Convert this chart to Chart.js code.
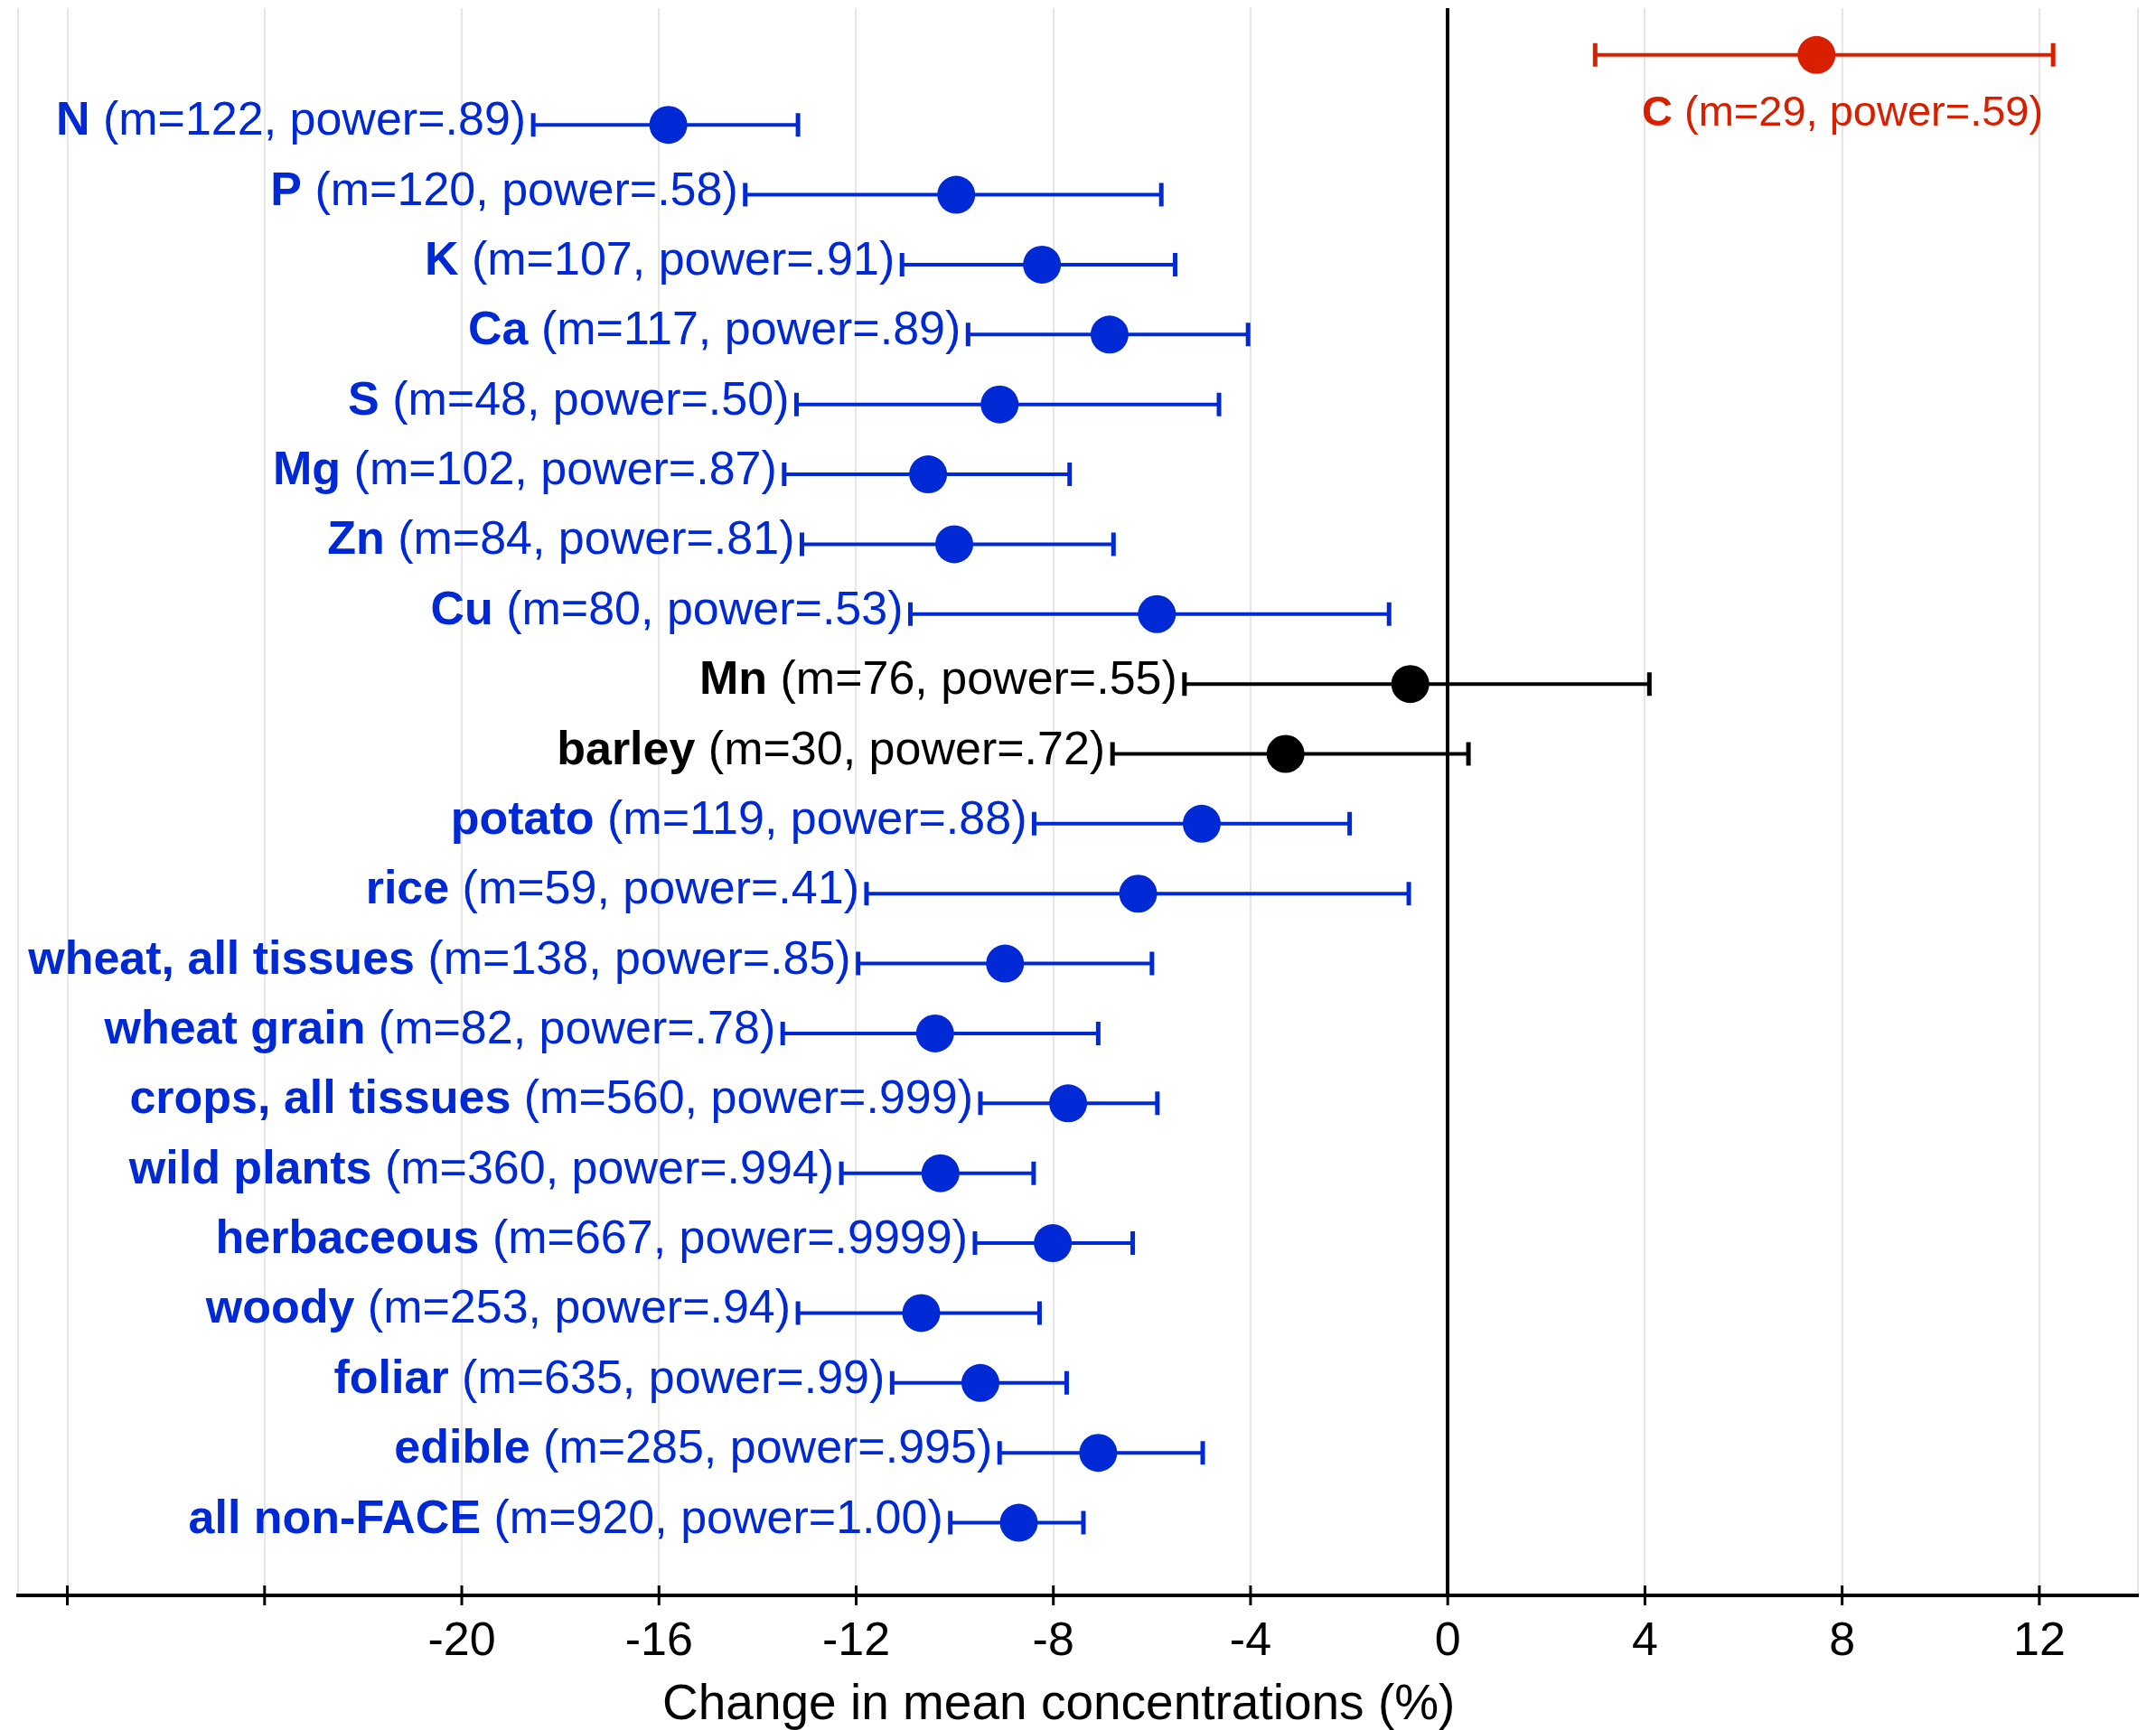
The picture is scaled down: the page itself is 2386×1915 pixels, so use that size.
<!DOCTYPE html>
<html>
<head>
<meta charset="utf-8">
<script src="https://cdn.jsdelivr.net/npm/chart.js@4/dist/chart.umd.min.js"></script>
<style>
  body { margin: 0; background: #fff; }
  #wrap { width: 2386px; height: 1915px; }
</style>
</head>
<body>
<div id="wrap"><canvas id="forest" width="2386" height="1915"></canvas></div>
<script>
// Rows from top to bottom
const names = ['C', 'N', 'P', 'K', 'Ca', 'S', 'Mg', 'Zn', 'Cu', 'Mn', 'barley', 'potato', 'rice',
    'wheat, all tissues', 'wheat grain', 'crops, all tissues', 'wild plants', 'herbaceous',
    'woody', 'foliar', 'edible', 'all non-FACE'];
const details = ['(m=29, power=.59)', '(m=122, power=.89)', '(m=120, power=.58)', '(m=107, power=.91)',
    '(m=117, power=.89)', '(m=48, power=.50)', '(m=102, power=.87)', '(m=84, power=.81)',
    '(m=80, power=.53)', '(m=76, power=.55)', '(m=30, power=.72)', '(m=119, power=.88)',
    '(m=59, power=.41)', '(m=138, power=.85)', '(m=82, power=.78)', '(m=560, power=.999)',
    '(m=360, power=.994)', '(m=667, power=.9999)', '(m=253, power=.94)', '(m=635, power=.99)',
    '(m=285, power=.995)', '(m=920, power=1.00)'];
const means = [7.48, -15.81, -9.97, -8.23, -6.86, -9.09, -10.54, -10.01, -5.9, -0.76, -3.29, -4.99,
    -6.28, -8.98, -10.4, -7.7, -10.29, -8.01, -10.68, -9.48, -7.09, -8.7];
const lower = [2.99, -18.55, -14.25, -11.07, -9.73, -13.21, -13.46, -13.1, -10.9, -5.34, -6.8, -8.39,
    -11.79, -11.96, -13.49, -9.48, -12.3, -9.59, -13.18, -11.27, -9.09, -10.09];
const upper = [12.28, -13.18, -5.81, -5.53, -4.05, -4.64, -7.67, -6.78, -1.19, 4.09, 0.42, -1.99,
    -0.79, -6.0, -7.09, -5.89, -8.4, -6.39, -8.28, -7.73, -4.97, -7.39];
// 'up' = significant increase, 'down' = significant decrease, 'ns' = not significant
const effect = ['up', 'down', 'down', 'down', 'down', 'down', 'down', 'down', 'down', 'ns', 'ns',
    'down', 'down', 'down', 'down', 'down', 'down', 'down', 'down', 'down', 'down', 'down'];

const tickValues = [-29, -28, -24, -20, -16, -12, -8, -4, 0, 4, 8, 12, 14];
const tickLabels = ['', '', '', '-20', '-16', '-12', '-8', '-4', '0', '4', '8', '12', ''];
const xTitle = 'Change in mean concentrations (%)';

const colors = { up: '#d82000', down: '#0029d6', ns: '#000000' };
const FONT = '"Liberation Sans", Arial, Helvetica, sans-serif';

const points = means.map((m, i) => ({ x: m, y: i }));

// error bars, tick marks, row labels and axis title
const forestPlugin = {
    id: 'forest',
    beforeDatasetsDraw(chart) {
        const { ctx } = chart;
        const xs = chart.scales.x, ys = chart.scales.y;
        ctx.save();
        names.forEach((name, i) => {
            const y = ys.getPixelForValue(i);
            const x1 = xs.getPixelForValue(lower[i]);
            const x2 = xs.getPixelForValue(upper[i]);
            ctx.strokeStyle = colors[effect[i]];
            ctx.lineWidth = 4;
            ctx.beginPath();
            ctx.moveTo(x1, y); ctx.lineTo(x2, y);
            ctx.stroke();
            ctx.lineWidth = 5;
            ctx.beginPath();
            ctx.moveTo(x1, y - 13); ctx.lineTo(x1, y + 13);
            ctx.moveTo(x2, y - 13); ctx.lineTo(x2, y + 13);
            ctx.stroke();

            // label
            const size = effect[i] === 'up' ? 47 : 52;
            ctx.fillStyle = colors[effect[i]];
            ctx.textBaseline = 'alphabetic';
            ctx.textAlign = 'left';
            ctx.font = 'bold ' + size + 'px ' + FONT;
            const wb = ctx.measureText(name + ' ').width;
            ctx.font = size + 'px ' + FONT;
            const wd = ctx.measureText(details[i]).width;
            let right, base;
            if (effect[i] === 'up') {
                right = x2 - 11;
                base = y + 78;
            } else {
                right = x1 - 8;
                base = y + 11;
            }
            const left = right - wb - wd;
            ctx.font = 'bold ' + size + 'px ' + FONT;
            ctx.fillText(name, left, base);
            ctx.font = size + 'px ' + FONT;
            ctx.fillText(details[i], left + wb, base);
        });

        // tick marks crossing the axis
        const yb = chart.chartArea.bottom;
        ctx.strokeStyle = '#000';
        ctx.lineWidth = 3;
        ctx.beginPath();
        tickValues.forEach((v, k) => {
            if (k === 0 || k === tickValues.length - 1) return;
            const x = xs.getPixelForValue(v);
            ctx.moveTo(x, yb - 11); ctx.lineTo(x, yb + 11);
        });
        ctx.stroke();

        // axis title, centred under the tick marks
        const xm = (xs.getPixelForValue(tickValues[1]) + xs.getPixelForValue(tickValues[tickValues.length - 2])) / 2;
        ctx.fillStyle = '#000';
        ctx.textAlign = 'center';
        ctx.textBaseline = 'alphabetic';
        ctx.font = '55px ' + FONT;
        ctx.fillText(xTitle, xm + 6, 1903);
        ctx.restore();
    }
};

new Chart(document.getElementById('forest'), {
    type: 'scatter',
    data: {
        datasets: [{
            data: points,
            pointRadius: 21,
            pointHoverRadius: 21,
            pointBorderWidth: 0,
            pointBackgroundColor: effect.map(e => colors[e]),
            pointBorderColor: effect.map(e => colors[e])
        }]
    },
    options: {
        responsive: false,
        animation: false,
        devicePixelRatio: 1,
        layout: { autoPadding: false, padding: { top: 9, left: 18, right: 15, bottom: 0 } },
        plugins: { legend: { display: false }, tooltip: { enabled: false } },
        scales: {
            x: {
                type: 'linear',
                min: -29,
                max: 14,
                afterBuildTicks: scale => { scale.ticks = tickValues.map(v => ({ value: v })); },
                afterFit: scale => { scale.height = 149; },
                grid: {
                    drawTicks: false,
                    color: c => c.tick && c.tick.value === 0 ? '#000' : '#e6e6e6',
                    lineWidth: c => c.tick && c.tick.value === 0 ? 4 : 2
                },
                border: { display: true, color: '#000', width: 4 },
                ticks: {
                    padding: 20,
                    color: '#000',
                    font: { family: FONT, size: 52 },
                    callback: (v, k) => tickLabels[k]
                }
            },
            y: {
                type: 'linear',
                reverse: true,
                min: -0.67,
                max: 22.04,
                display: false
            }
        }
    },
    plugins: [forestPlugin]
});
</script>
</body>
</html>
